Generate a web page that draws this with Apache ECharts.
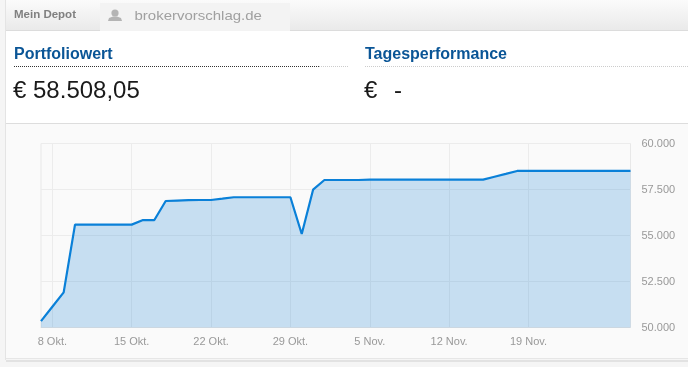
<!DOCTYPE html>
<html><head><meta charset="utf-8">
<style>html,body{margin:0;padding:0;background:#f5f5f5}#c{width:688px;height:367px}</style>
<script src="https://cdn.jsdelivr.net/npm/echarts@6/dist/echarts.min.js"></script>
</head><body><div id="c"></div>
<script>
const dates = ['7 Okt.','8 Okt.','9 Okt.','10 Okt.','11 Okt.','12 Okt.','13 Okt.','14 Okt.','15 Okt.','16 Okt.','17 Okt.','18 Okt.','19 Okt.','20 Okt.','21 Okt.','22 Okt.','23 Okt.','24 Okt.','25 Okt.','26 Okt.','27 Okt.','28 Okt.','29 Okt.','30 Okt.','31 Okt.','1 Nov.','2 Nov.','3 Nov.','4 Nov.','5 Nov.','6 Nov.','7 Nov.','8 Nov.','9 Nov.','10 Nov.','11 Nov.','12 Nov.','13 Nov.','14 Nov.','15 Nov.','16 Nov.','17 Nov.','18 Nov.','19 Nov.','20 Nov.','21 Nov.','22 Nov.','23 Nov.','24 Nov.','25 Nov.','26 Nov.','27 Nov.','28 Nov.'];
const values = [50350,51130,51910,55590,55590,55590,55590,55590,55590,55840,55840,56875,56900,56920,56930,56930,57000,57080,57080,57080,57080,57080,57080,55080,57490,58015,58015,58015,58015,58040,58040,58040,58040,58040,58040,58040,58040,58040,58040,58040,58195,58350,58508,58508,58508,58508,58508,58508,58508,58508,58508,58508,58508];
const shownTicks = ['8 Okt.','15 Okt.','22 Okt.','29 Okt.','5 Nov.','12 Nov.','19 Nov.'];
const yTicks = [50000,52500,55000,57500,60000];

const font = 'Arial, "Liberation Sans", sans-serif';
const isTick = (i, name) => shownTicks.includes(name);
const chart = echarts.init(document.getElementById('c'), null, {renderer:'canvas'});
chart.setOption({
  animation:false,
  backgroundColor:'#f5f5f5',
  graphic:[
    {type:'rect',z:-10,shape:{x:5,y:0,width:683,height:31},style:{fill:new echarts.graphic.LinearGradient(0,0,0,1,[{offset:0,color:'#fbfbfb'},{offset:1,color:'#e9e9e9'}])}},
    {type:'rect',z:-9,shape:{x:5,y:30,width:683,height:1},style:{fill:'#dcdcdc'}},
    {type:'rect',z:-9,shape:{x:100,y:3,width:190,height:28},style:{fill:'#f3f3f3'}},
    {type:'rect',z:-9,shape:{x:5,y:31,width:683,height:93},style:{fill:'#ffffff'}},
    {type:'rect',z:-9,shape:{x:5,y:123,width:683,height:1},style:{fill:'#dddddd'}},
    {type:'rect',z:-9,shape:{x:6,y:124,width:682,height:235},style:{fill:'#fafafa'}},
    {type:'rect',z:-9,shape:{x:5,y:0,width:1,height:360},style:{fill:'#e4e4e4'}},
    {type:'rect',z:-9,shape:{x:6,y:358,width:682,height:1},style:{fill:'#e6e6e6'}},
    {type:'rect',z:-9,shape:{x:6,y:360,width:682,height:2},style:{fill:'#e2e2e2'}},
    {type:'text',style:{x:14,y:15,text:'Mein Depot',font:'bold 11.5px '+font,fill:'#808080',textVerticalAlign:'middle'}},
    {type:'circle',shape:{cx:115,cy:13,r:3.6},style:{fill:'#b4b4b4'}},
    {type:'polygon',shape:{points:[[108,21],[109,18],[113,16.5],[117,16.5],[121,18],[122,21]]},style:{fill:'#b4b4b4'}},
    {type:'text',x:134.5,y:16,scaleX:1.11,style:{x:0,y:0,text:'brokervorschlag.de',font:'13.5px '+font,fill:'#a0a0a0',textVerticalAlign:'middle'}},
    {type:'text',style:{x:14,y:55,text:'Portfoliowert',font:'bold 16px '+font,fill:'#0a5596',textVerticalAlign:'middle'}},
    {type:'text',style:{x:365,y:55,text:'Tagesperformance',font:'bold 16px '+font,fill:'#0a5596',textVerticalAlign:'middle'}},
    {type:'line',shape:{x1:14,y1:66.5,x2:319,y2:66.5},style:{stroke:'#333',lineWidth:1,lineDash:[1,1]}},
    {type:'line',shape:{x1:319,y1:66.5,x2:349,y2:66.5},style:{stroke:'#ccc',lineWidth:1,lineDash:[1,1]}},
    {type:'line',shape:{x1:365,y1:66.5,x2:688,y2:66.5},style:{stroke:'#ccc',lineWidth:1,lineDash:[1,1]}},
    {type:'text',style:{x:13,y:91,text:'€ 58.508,05',font:'24px '+font,fill:'#1a1a1a',textVerticalAlign:'middle'}},
    {type:'text',style:{x:364,y:91,text:'€',font:'24px '+font,fill:'#1a1a1a',textVerticalAlign:'middle'}},
    {type:'text',style:{x:394,y:91,text:'-',font:'24px '+font,fill:'#1a1a1a',textVerticalAlign:'middle'}}
  ],
  grid:{show:true,left:41,right:57.5,top:143.5,height:184,borderColor:'#e8e8e8',borderWidth:1,backgroundColor:'transparent'},
  xAxis:{
    type:'category',data:dates,boundaryGap:false,
    axisLine:{show:true,lineStyle:{color:'#e4e4e4',width:1}},
    axisTick:{show:false},
    axisLabel:{interval:isTick,color:'#999',fontFamily:font,fontSize:11,margin:9},
    splitLine:{show:true,interval:isTick,lineStyle:{color:'#ececec',width:1}}
  },
  yAxis:{
    type:'value',position:'right',min:yTicks[0],max:yTicks[4],interval:2500,
    axisLine:{show:false},axisTick:{show:false},
    axisLabel:{color:'#999',fontFamily:font,fontSize:11,margin:11,padding:[4,0,0,0],formatter:v=>String(v).replace(/(\d\d)(\d{3})$/,'$1.$2')},
    splitLine:{show:true,lineStyle:{color:'#ececec',width:1}}
  },
  series:[{
    type:'line',data:values,symbol:'none',smooth:false,
    lineStyle:{color:'#0a80d8',width:2.2},
    areaStyle:{color:'#0478d0',opacity:0.21}
  }]
});
</script></body></html>
